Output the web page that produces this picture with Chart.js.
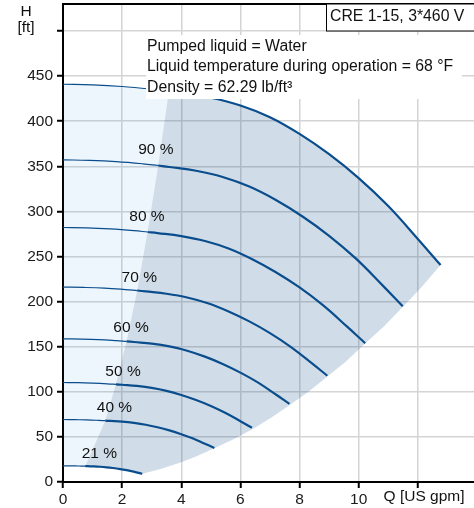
<!DOCTYPE html>
<html>
<head>
<meta charset="utf-8">
<title>CRE 1-15 pump curve</title>
<script src="https://cdn.jsdelivr.net/npm/chart.js@4.4.1/dist/chart.umd.min.js"></script>
<style>
  html, body { margin: 0; padding: 0; background: #fff; }
</style>
</head>
<body>
<canvas id="myChart" width="474" height="508"></canvas>
<script>
// pump curves: [Q in US gpm, H in ft]
// first 5 points of each curve = thin part (left of the operating area)
const c100 = [[0,441],[1,440.3],[2,438.5],[3,435.5],[3.58,433.2],[4,431.2],[5,426],[6,417.5],[7,404.5],[8,386],[9,363.5],[10,337],[11,306],[12,269.5],[12.77,240.5]];
const c90 = [[0,357.2],[0.9,356.6],[1.8,355.2],[2.7,352.8],[3.22,350.9],[3.6,349.3],[4.5,345.1],[5.4,338.2],[6.3,327.6],[7.2,312.7],[8.1,294.4],[9,273],[9.9,247.9],[10.8,218.3],[11.49,194.8]];
const c80 = [[0,282.2],[0.8,281.8],[1.6,280.6],[2.4,278.7],[2.86,277.2],[3.2,276],[4,272.6],[4.8,267.2],[5.6,258.9],[6.4,247],[7.2,232.6],[8,215.7],[8.8,195.8],[9.6,172.5],[10.22,153.9]];
const c70 = [[0,216.1],[0.7,215.7],[1.4,214.9],[2.1,213.4],[2.51,212.3],[2.8,211.3],[3.5,208.7],[4.2,204.6],[4.9,198.2],[5.6,189.1],[6.3,178.1],[7,165.1],[7.7,149.9],[8.4,132.1],[8.94,117.8]];
const c60 = [[0,158.8],[0.6,158.5],[1.2,157.9],[1.8,156.8],[2.15,156],[2.4,155.2],[3,153.4],[3.6,150.3],[4.2,145.6],[4.8,139],[5.4,130.9],[6,121.3],[6.6,110.2],[7.2,97],[7.66,86.6]];
const c50 = [[0,110.3],[0.5,110.1],[1,109.6],[1.5,108.9],[1.79,108.3],[2,107.8],[2.5,106.5],[3,104.4],[3.5,101.1],[4,96.5],[4.5,90.9],[5,84.3],[5.5,76.5],[6,67.4],[6.39,60.1]];
const c40 = [[0,69.3],[0.4,69.1],[0.8,68.9],[1.2,68.4],[1.43,68],[1.6,67.7],[2,66.9],[2.4,65.5],[2.8,63.5],[3.2,60.7],[3.6,57.2],[4,53],[4.4,48.2],[4.8,42.4],[5.12,37.8]];
const c21 = [[0,17.9],[0.21,17.9],[0.42,17.8],[0.63,17.7],[0.75,17.6],[0.84,17.5],[1.05,17.3],[1.26,16.9],[1.47,16.3],[1.68,15.5],[1.89,14.5],[2.1,13.4],[2.31,12],[2.52,10.4],[2.68,9.1]];

// outlines of the two shaded areas
const lightArea = [[0,441],[1,440.3],[2,438.5],[3,435.5],[3.58,433.2],[3.22,350.9],[2.86,277.2],[2.51,212.3],[2.15,156],[1.79,108.3],[1.43,68],[0.75,17.6],[0.63,17.7],[0.42,17.8],[0.21,17.9],[0,17.9]];
const darkArea = [[0.75,17.6],[1.43,68],[1.79,108.3],[2.15,156],[2.51,212.3],[2.86,277.2],[3.22,350.9],[3.58,433.2],
  [4,431.2],[5,426],[6,417.5],[7,404.5],[8,386],[9,363.5],[10,337],[10.5,321.8],[11,306],[11.5,288.3],[12,269.5],[12.4,255],[12.77,240.5],
  [12.1,215],[11.49,194],[10.85,172.5],[10.2,153],[9.55,133],[8.92,116.4],[8.3,100],[7.67,85.3],[7.05,71.6],[6.42,58.7],[5.8,48],[5.14,37.7],[4.5,28.4],[4,22],[3.3,14.5],[2.68,9.1],
  [2.52,10.4],[2.31,12],[2.1,13.4],[1.89,14.5],[1.68,15.5],[1.47,16.3],[1.26,16.9],[1.05,17.3],[0.84,17.5]];

const speedLabels = ['90 %', '80 %', '70 %', '60 %', '50 %', '40 %', '21 %'];
const labelPos = [[3.14,368],[2.84,293.7],[2.58,227],[2.3,170.7],[2.03,122],[1.74,82],[1.23,31]];

const xTicks = [0, 2, 4, 6, 8, 10, 12];
const yTicks = [0, 50, 100, 150, 200, 250, 300, 350, 400, 450, 500];

const infoLines = ['Pumped liquid = Water', 'Liquid temperature during operation = 68 \u00b0F', 'Density = 62.29 lb/ft\u00b3'];
const pumpTitle = 'CRE 1-15, 3*460 V';

const BLUE = '#0a4d8c';
const FONT = '15.8px "Liberation Sans", Arial, sans-serif';

Chart.defaults.font.family = '"Liberation Sans", Arial, sans-serif';
Chart.defaults.font.size = 15.5;
Chart.defaults.color = '#1a1a1a';

function pts(a) { return a.map(p => ({x: p[0], y: p[1]})); }

var datasets = [];
[c100, c90, c80, c70, c60, c50, c40, c21].forEach(function(c) {
  datasets.push({ data: pts(c.slice(0, 5)), borderWidth: 1.2, order: 0 });
  datasets.push({ data: pts(c.slice(4)), borderWidth: 2.2, order: 0 });
});
datasets.forEach(function(d) {
  d.showLine = true; d.pointRadius = 0; d.borderColor = BLUE; d.fill = false;
  d.tension = 0.4;
});
datasets.push({ data: pts(lightArea), showLine: true, pointRadius: 0, borderWidth: 0, borderColor: 'rgba(0,0,0,0)',
  backgroundColor: 'rgba(12,126,226,0.07)', fill: 'shape', tension: 0, order: 2 });
datasets.push({ data: pts(darkArea), showLine: true, pointRadius: 0, borderWidth: 0, borderColor: 'rgba(0,0,0,0)',
  backgroundColor: 'rgba(20,85,145,0.2)', fill: 'shape', tension: 0, order: 2 });

// texts on top of the plot
const overlay = {
  id: 'overlay',
  afterDraw(chart) {
    const {ctx, chartArea: a, scales: {x, y}} = chart;
    ctx.save();
    ctx.strokeStyle = '#000';
    ctx.lineWidth = 2;
    ctx.beginPath(); ctx.moveTo(a.left, a.top); ctx.lineTo(a.right, a.top); ctx.stroke();

    ctx.font = FONT;
    ctx.textBaseline = 'middle';

    // info box
    ctx.fillStyle = '#fff';
    ctx.fillRect(146, 35, 316, 64);
    ctx.fillStyle = '#111';
    ctx.textAlign = 'left';
    infoLines.forEach((t, i) => ctx.fillText(t, 147, 46.5 + i * 20.5));

    // title box
    ctx.fillStyle = '#fff';
    ctx.fillRect(326, a.top, 160, 27);
    ctx.lineWidth = 1;
    ctx.strokeRect(326.5, a.top, 160, 27);
    ctx.fillStyle = '#111';
    ctx.fillText(pumpTitle, 330, a.top + 13);

    // speed labels
    ctx.font = '15.5px "Liberation Sans", Arial, sans-serif';
    ctx.textAlign = 'center';
    speedLabels.forEach((t, i) => ctx.fillText(t, x.getPixelForValue(labelPos[i][0]), y.getPixelForValue(labelPos[i][1])));

    // axis titles
    ctx.fillText('H', 26, 12);
    ctx.fillText('[ft]', 26, 28);
    ctx.fillText('Q [US gpm]', 424, 497);
    ctx.restore();
  }
};

var ctx = document.getElementById('myChart').getContext('2d');
var chart = new Chart(ctx, {
  type: 'scatter',
  data: { datasets: datasets },
  options: {
    responsive: false,
    animation: false,
    devicePixelRatio: 1,
    layout: { padding: { top: 4, right: 0, left: 0, bottom: 0 } },
    plugins: { legend: { display: false }, tooltip: { enabled: false } },
    scales: {
      x: {
        type: 'linear', min: 0, max: 13.9,
        afterBuildTicks: s => { s.ticks = xTicks.map(v => ({value: v})); },
        afterFit: s => { s.height = 26; s.paddingLeft = 0; s.paddingRight = 0; },
        ticks: { padding: 2, maxRotation: 0, autoSkip: false, callback: v => v === 12 ? '' : v },
        grid: { color: '#d4d4d4', lineWidth: 1.5, tickColor: '#000', tickLength: 6, tickWidth: 2 },
        border: { color: '#000', width: 2 }
      },
      y: {
        type: 'linear', min: 0, max: 530,
        afterBuildTicks: s => { s.ticks = yTicks.map(v => ({value: v})); },
        afterFit: s => { s.width = 63; s.paddingTop = 0; s.paddingBottom = 0; },
        ticks: { padding: 4, autoSkip: false, callback: v => v === 500 ? '' : v },
        grid: { color: '#d4d4d4', lineWidth: 1.5, tickColor: '#000', tickLength: 6, tickWidth: 2 },
        border: { color: '#000', width: 2 }
      }
    }
  },
  plugins: [overlay]
});
</script>
</body>
</html>
